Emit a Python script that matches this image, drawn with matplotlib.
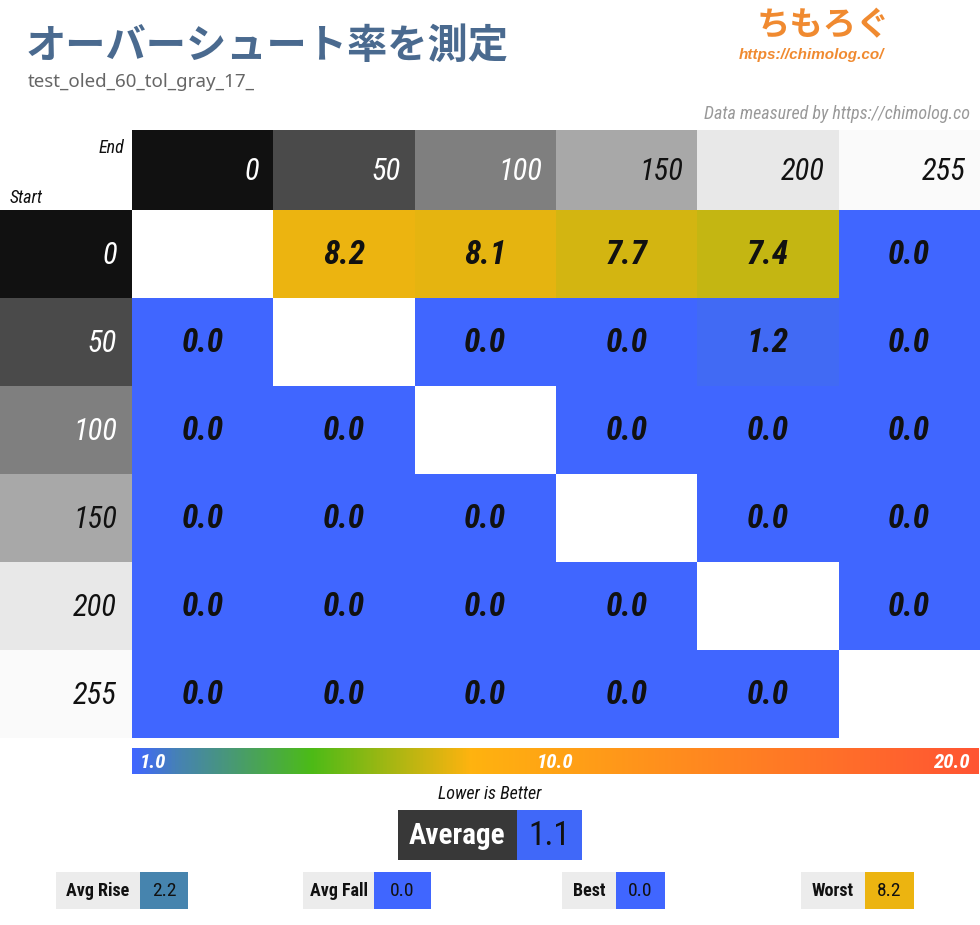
import numpy as np
import matplotlib
matplotlib.use("Agg")
import matplotlib.pyplot as plt
from matplotlib.patches import Rectangle
from matplotlib.colors import LinearSegmentedColormap

# data
levels = [0, 50, 100, 150, 200, 255]
overshoot = np.array([
    [np.nan, 8.2, 8.1, 7.7, 7.4, 0.0],
    [0.0, np.nan, 0.0, 0.0, 1.2, 0.0],
    [0.0, 0.0, np.nan, 0.0, 0.0, 0.0],
    [0.0, 0.0, 0.0, np.nan, 0.0, 0.0],
    [0.0, 0.0, 0.0, 0.0, np.nan, 0.0],
    [0.0, 0.0, 0.0, 0.0, 0.0, np.nan],
])
level_grays = ['#111111', '#4a4a4a', '#7f7f7f', '#a8a8a8', '#e8e8e8', '#fafafa']
scale_ticks = [1.0, 10.0, 20.0]
title = "オーバーシュート率を測定"
subtitle = "test_oled_60_tol_gray_17_"

# colour scale
vmin, vmax = 1.0, 20.0
stops = [(1.0, '#4066ff'), (2.0, '#4682b4'), (5.0, '#4cbb17'), (8.6, '#ffb30f'), (20.0, '#ff5533')]
cmap = LinearSegmentedColormap.from_list(
    'ovs', [((v - vmin) / (vmax - vmin), c) for v, c in stops])

def val_color(v):
    if v < vmin:
        return '#4066ff'
    return cmap((v - vmin) / (vmax - vmin))

COND = dict(family=['Roboto Condensed', 'DejaVu Sans'], stretch='condensed')
JP = ['Noto Sans CJK JP', 'DejaVu Sans']

W, H = 980, 925
fig = plt.figure(figsize=(W / 100, H / 100), dpi=100)
ax = fig.add_axes([0, 0, 1, 1])
ax.set_xlim(0, W)
ax.set_ylim(H, 0)
ax.axis('off')

# layout (pixels)
x0, cw = 132, 141.3
hy0, hh = 130, 80
y0, rh = 210, 88
n = len(levels)

# title block
ax.text(26, 46, title, family=JP, fontsize=29, fontweight='bold', color='#4a6a8f', va='center')
ax.text(28, 82, subtitle, family=['Noto Sans', 'DejaVu Sans'], fontsize=13.5, color='#666666', va='center')
ax.text(823, 26, "ちもろぐ", family=JP, fontsize=24, fontweight='bold', color='#f08a30', va='center', ha='center')
ax.text(811, 55, "https://chimolog.co/", family=['Liberation Sans', 'DejaVu Sans'], fontsize=11,
        fontweight='bold', style='italic', color='#f08a30', va='center', ha='center')
ax.text(970, 114, "Data measured by https://chimolog.co", **COND, fontsize=13, style='italic',
        color='#999999', va='center', ha='right')

# corner labels
ax.text(124, 148, "End", **COND, fontsize=13, style='italic', color='#111111', va='center', ha='right')
ax.text(10, 198, "Start", **COND, fontsize=13, style='italic', color='#111111', va='center', ha='left')

# column headers and row labels
for i, lv in enumerate(levels):
    tc = 'white' if i < 3 else '#111111'
    cx = x0 + i * cw
    ax.add_patch(Rectangle((cx, hy0), cw, hh, facecolor=level_grays[i], edgecolor='none'))
    ax.text(cx + cw - 14, hy0 + hh / 2 + 2, str(lv), **COND, fontsize=22, style='italic',
            color=tc, va='center', ha='right')
    ry = y0 + i * rh
    ax.add_patch(Rectangle((0, ry), x0, rh, facecolor=level_grays[i], edgecolor='none'))
    ax.text(x0 - 15, ry + rh / 2 + 1, str(lv), **COND, fontsize=22, style='italic',
            color=tc, va='center', ha='right')

# heatmap cells
for r in range(n):
    for c in range(n):
        v = overshoot[r, c]
        if np.isnan(v):
            continue
        cx, ry = x0 + c * cw, y0 + r * rh
        ax.add_patch(Rectangle((cx, ry), cw, rh, facecolor=val_color(v), edgecolor='none'))
        ax.text(cx + cw / 2, ry + rh / 2 + 1, f"{v:.1f}", **COND, fontsize=24, fontweight='bold',
                style='italic', color='#111111', va='center', ha='center')

# colour bar
cb_x0, cb_x1, cb_y, cb_h = 132, 978, 748, 26
grad = np.linspace(0, 1, 512)[None, :]
ax.imshow(grad, cmap=cmap, aspect='auto', extent=(cb_x0, cb_x1, cb_y + cb_h, cb_y), zorder=1)
tick_pos = [(cb_x0 + 8, 'left'), ((cb_x0 + cb_x1) / 2, 'center'), (cb_x1 - 8, 'right')]
for t, (fx, ha) in zip(scale_ticks, tick_pos):
    ax.text(fx, cb_y + cb_h / 2 + 1, f"{t:.1f}", **COND, fontsize=15, fontweight='bold',
            style='italic', color='white', va='center', ha=ha, zorder=2)
ax.set_xlim(0, W)
ax.set_ylim(H, 0)
ax.text(490, 794, "Lower is Better", **COND, fontsize=13, style='italic', color='#111111',
        va='center', ha='center')

# summary stats
vals = overshoot[~np.isnan(overshoot)]
rise = overshoot[np.triu_indices(n, 1)]
fall = overshoot[np.tril_indices(n, -1)]
average = vals.mean()
stats = [("Avg Rise", rise.mean()), ("Avg Fall", fall.mean()), ("Best", vals.min()), ("Worst", vals.max())]

ax.add_patch(Rectangle((398, 810), 119, 50, facecolor='#383838', edgecolor='none'))
ax.add_patch(Rectangle((517, 810), 65, 50, facecolor=val_color(average), edgecolor='none'))
ax.text(457, 836, "Average", **COND, fontsize=21, fontweight='bold', color='white', va='center', ha='center')
ax.text(549, 836, f"{average:.1f}", **COND, fontsize=24, color='#111111', va='center', ha='center')

boxes = [(56, 140, 188), (303, 374, 431), (562, 616, 665), (801, 865, 914)]
for (lbl, v), (bx0, bx1, bx2) in zip(stats, boxes):
    ax.add_patch(Rectangle((bx0, 872), bx1 - bx0, 37, facecolor='#ececec', edgecolor='none'))
    ax.add_patch(Rectangle((bx1, 872), bx2 - bx1, 37, facecolor=val_color(v), edgecolor='none'))
    ax.text((bx0 + bx1) / 2, 891, lbl, **COND, fontsize=13, fontweight='bold', color='#111111',
            va='center', ha='center')
    ax.text((bx1 + bx2) / 2, 891, f"{v:.1f}", **COND, fontsize=14, color='#111111',
            va='center', ha='center')

fig.savefig('out.png', dpi=100)
